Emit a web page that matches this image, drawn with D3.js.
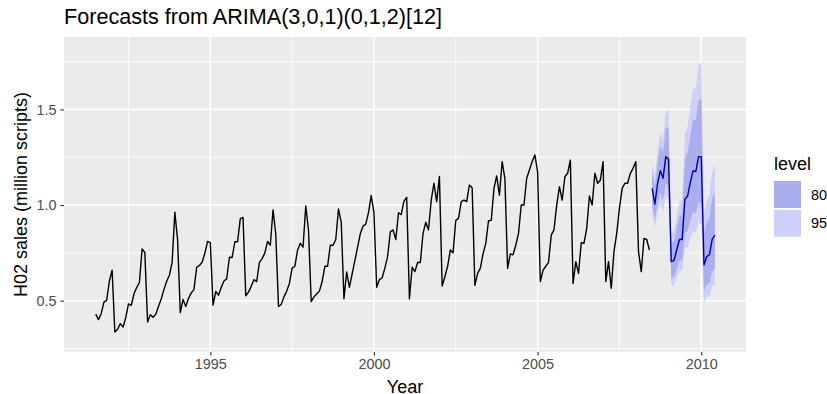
<!DOCTYPE html>
<html>
<head>
<meta charset="utf-8">
<script src="https://cdn.jsdelivr.net/npm/d3@7"></script>
<style>
  body { margin: 0; background: #ffffff; }
  text { font-family: "Liberation Sans", Arial, sans-serif; }
</style>
</head>
<body>
<div id="chart"></div>
<script>
const width = 827, height = 394,
    margin = {top: 37, right: 81, bottom: 42, left: 64},
    panelW = width - margin.left - margin.right,
    panelH = height - margin.top - margin.bottom;

// monthly H02 series, starting July 1991
const startYear = 1991, startMonth = 7;
const sales = [
  0.430, 0.401, 0.432, 0.493, 0.502, 0.603,
  0.660, 0.336, 0.351, 0.380, 0.362, 0.411, 0.483, 0.475, 0.535, 0.569, 0.595, 0.771,
  0.752, 0.388, 0.427, 0.414, 0.429, 0.470, 0.509, 0.558, 0.602, 0.633, 0.700, 0.963,
  0.819, 0.438, 0.506, 0.470, 0.511, 0.541, 0.558, 0.674, 0.684, 0.701, 0.748, 0.810,
  0.804, 0.477, 0.548, 0.529, 0.569, 0.603, 0.614, 0.727, 0.726, 0.808, 0.808, 0.929,
  0.935, 0.526, 0.545, 0.575, 0.610, 0.600, 0.700, 0.720, 0.750, 0.810, 0.790, 0.975,
  0.850, 0.470, 0.480, 0.520, 0.550, 0.590, 0.670, 0.680, 0.765, 0.800, 0.780, 0.995,
  0.870, 0.495, 0.520, 0.535, 0.550, 0.600, 0.680, 0.680, 0.790, 0.790, 0.820, 0.980,
  0.910, 0.510, 0.650, 0.570, 0.640, 0.710, 0.780, 0.850, 0.890, 0.900, 0.960, 1.050,
  0.960, 0.570, 0.610, 0.620, 0.670, 0.730, 0.860, 0.870, 0.820, 0.960, 0.950, 1.020,
  1.040, 0.510, 0.675, 0.652, 0.700, 0.700, 0.852, 0.910, 0.870, 1.026, 1.114, 1.018,
  1.150, 0.577, 0.625, 0.680, 0.765, 0.750, 0.920, 0.930, 1.018, 1.026, 1.018, 1.105,
  1.090, 0.580, 0.643, 0.670, 0.745, 0.800, 0.918, 0.920, 1.087, 1.152, 1.052, 1.227,
  1.140, 0.669, 0.745, 0.740, 0.790, 0.852, 1.000, 1.000, 1.140, 1.183, 1.227, 1.262,
  1.174, 0.600, 0.660, 0.680, 0.700, 0.843, 0.870, 1.000, 1.096, 1.026, 1.148, 1.166,
  1.235, 0.590, 0.704, 0.643, 0.803, 0.800, 0.878, 1.047, 1.000, 1.166, 1.114, 1.130,
  1.227, 0.600, 0.704, 0.565, 0.756, 0.852, 0.983, 1.087, 1.114, 1.114, 1.166, 1.192,
  1.227, 0.756, 0.652, 0.826, 0.820, 0.765
];

// forecasts, July 2008 to June 2010
const fcMean = [1.087, 1.005, 1.114, 1.180, 1.140, 1.253, 1.240, 0.704, 0.710, 0.765, 0.820, 0.820,
                1.030, 1.047, 1.120, 1.180, 1.175, 1.253, 1.253, 0.687, 0.730, 0.740, 0.820, 0.843];
const lo80 = [1.007, 0.921, 1.013, 1.065, 1.022, 1.117, 1.099, 0.621, 0.623, 0.668, 0.712, 0.709,
              0.855, 0.864, 0.919, 0.964, 0.956, 1.014, 1.010, 0.552, 0.584, 0.590, 0.651, 0.667];
const hi80 = [1.174, 1.096, 1.225, 1.307, 1.271, 1.406, 1.399, 0.798, 0.809, 0.876, 0.944, 0.948,
              1.240, 1.269, 1.364, 1.445, 1.444, 1.548, 1.554, 0.855, 0.912, 0.928, 1.033, 1.066];
const lo95 = [0.966, 0.880, 0.964, 1.009, 0.965, 1.050, 1.031, 0.581, 0.581, 0.622, 0.661, 0.657,
              0.775, 0.780, 0.828, 0.866, 0.857, 0.907, 0.901, 0.491, 0.519, 0.523, 0.576, 0.589];
const hi95 = [1.223, 1.148, 1.288, 1.380, 1.347, 1.495, 1.491, 0.853, 0.867, 0.942, 1.017, 1.023,
              1.369, 1.405, 1.515, 1.608, 1.611, 1.731, 1.742, 0.961, 1.027, 1.047, 1.167, 1.207];

const xTicks = [1995, 2000, 2005, 2010],
    xMinor = [1992.5, 1997.5, 2002.5, 2007.5],
    yTicks = [0.5, 1.0, 1.5],
    yMinor = [0.25, 0.75, 1.25, 1.75],
    levels = ["80", "95"],
    levelColors = ["#aaaeee", "#cdd1fa"];

const t0 = startYear + (startMonth - 1) / 12;
const hist = sales.map((v, i) => ({t: t0 + i / 12, v: v}));
const fc = fcMean.map((v, i) => ({t: t0 + (sales.length + i) / 12, v: v,
    lo80: lo80[i], hi80: hi80[i], lo95: lo95[i], hi95: hi95[i]}));

const svg = d3.select("#chart").append("svg")
    .attr("width", width)
    .attr("height", height);

const g = svg.append("g")
    .attr("transform", "translate(" + margin.left + "," + margin.top + ")");

const x = d3.scaleLinear().domain([1990.530, 2011.367]).range([0, panelW]);
const y = d3.scaleLinear().domain([0.2318, 1.8785]).range([panelH, 0]);

g.append("rect")
    .attr("width", panelW)
    .attr("height", panelH)
    .attr("fill", "#ebebeb");

// grid
g.selectAll(".ymin").data(yMinor).enter().append("line")
    .attr("x1", 0).attr("x2", panelW)
    .attr("y1", d => y(d)).attr("y2", d => y(d))
    .attr("stroke", "#fff").attr("stroke-width", 0.8);
g.selectAll(".xmin").data(xMinor).enter().append("line")
    .attr("y1", 0).attr("y2", panelH)
    .attr("x1", d => x(d)).attr("x2", d => x(d))
    .attr("stroke", "#fff").attr("stroke-width", 0.8);
g.selectAll(".ymaj").data(yTicks).enter().append("line")
    .attr("x1", 0).attr("x2", panelW)
    .attr("y1", d => y(d)).attr("y2", d => y(d))
    .attr("stroke", "#fff").attr("stroke-width", 1.6);
g.selectAll(".xmaj").data(xTicks).enter().append("line")
    .attr("y1", 0).attr("y2", panelH)
    .attr("x1", d => x(d)).attr("x2", d => x(d))
    .attr("stroke", "#fff").attr("stroke-width", 1.6);

// prediction intervals
const band95 = d3.area().x(d => x(d.t)).y0(d => y(d.lo95)).y1(d => y(d.hi95));
const band80 = d3.area().x(d => x(d.t)).y0(d => y(d.lo80)).y1(d => y(d.hi80));
g.append("path").datum(fc).attr("d", band95).attr("fill", levelColors[1]);
g.append("path").datum(fc).attr("d", band80).attr("fill", levelColors[0]);

const line = d3.line().x(d => x(d.t)).y(d => y(d.v));
g.append("path").datum(hist)
    .attr("d", line)
    .attr("fill", "none")
    .attr("stroke", "#000")
    .attr("stroke-width", 1.4)
    .attr("stroke-linejoin", "round");
g.append("path").datum(fc)
    .attr("d", line)
    .attr("fill", "none")
    .attr("stroke", "#0000aa")
    .attr("stroke-width", 1.4)
    .attr("stroke-linejoin", "round");

// axes
const xAxis = g.append("g")
    .attr("transform", "translate(0," + panelH + ")")
    .call(d3.axisBottom(x).tickValues(xTicks).tickFormat(d3.format("d")).tickSize(3.6).tickPadding(3));
const yAxis = g.append("g")
    .call(d3.axisLeft(y).tickValues(yTicks).tickFormat(d3.format(".1f")).tickSize(3.6).tickPadding(4));
[xAxis, yAxis].forEach(a => {
    a.select(".domain").remove();
    a.selectAll("line").attr("stroke", "#333333").attr("stroke-width", 1.1);
    a.selectAll("text").attr("fill", "#4d4d4d").style("font-size", "14.4px");
});

svg.append("text")
    .attr("x", margin.left)
    .attr("y", 24)
    .style("font-size", "21.6px")
    .attr("fill", "#000")
    .text("Forecasts from ARIMA(3,0,1)(0,1,2)[12]");

svg.append("text")
    .attr("x", margin.left + panelW / 2)
    .attr("y", 393)
    .attr("text-anchor", "middle")
    .style("font-size", "18px")
    .text("Year");

svg.append("text")
    .attr("transform", "translate(27," + (margin.top + panelH / 2) + ") rotate(-90)")
    .attr("text-anchor", "middle")
    .style("font-size", "18px")
    .text("H02 sales (million scripts)");

// legend
const legend = svg.append("g").attr("transform", "translate(774,0)");
legend.append("text")
    .attr("x", 0).attr("y", 170)
    .style("font-size", "18px")
    .text("level");
legend.selectAll("rect").data(levels).enter().append("rect")
    .attr("x", 0)
    .attr("y", (d, i) => 181 + i * 28.8)
    .attr("width", 27).attr("height", 27)
    .attr("fill", (d, i) => levelColors[i]);
legend.selectAll(".lab").data(levels).enter().append("text")
    .attr("x", 37)
    .attr("y", (d, i) => 181 + 13.5 + i * 28.8)
    .attr("dy", "0.35em")
    .style("font-size", "14.4px")
    .text(d => d);
</script>
</body>
</html>
